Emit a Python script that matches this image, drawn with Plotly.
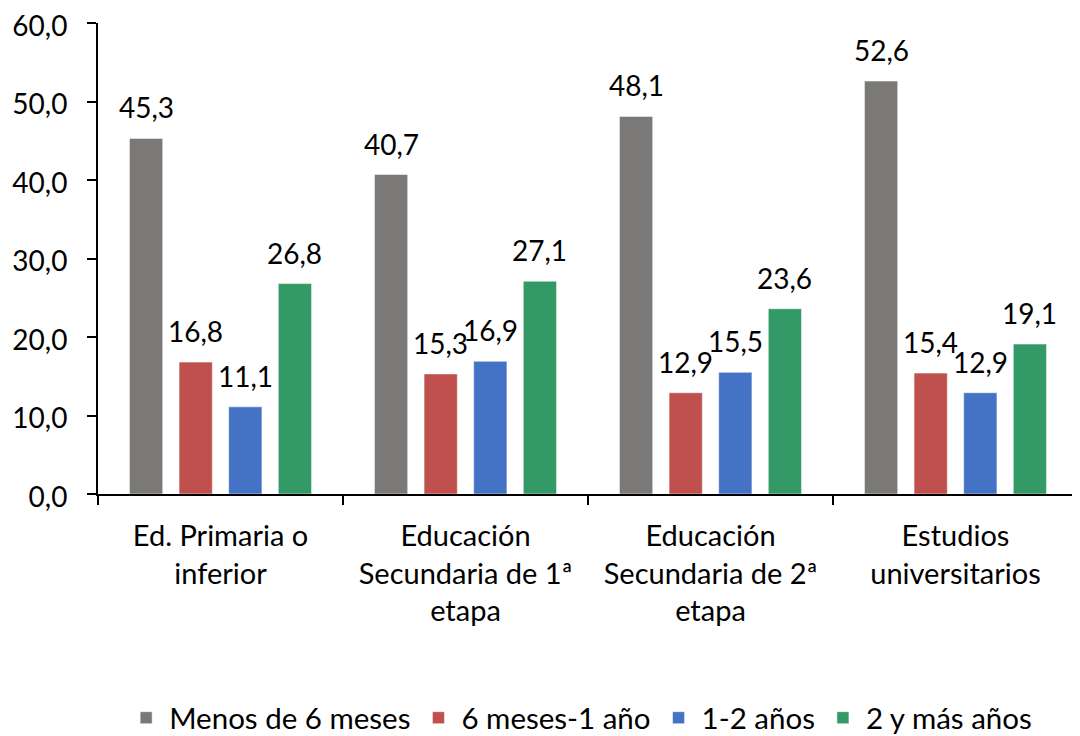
import plotly.graph_objects as go

categories = ["Ed. Primaria o<br>inferior",
              "Educación<br>Secundaria de 1ª<br>etapa",
              "Educación<br>Secundaria de 2ª<br>etapa",
              "Estudios<br>universitarios"]
series_names = ["Menos de 6 meses", "6 meses-1 año", "1-2 años", "2 y más años"]
menos_6_meses = [45.3, 40.7, 48.1, 52.6]
seis_meses_1_ano = [16.8, 15.3, 12.9, 15.4]
uno_dos_anos = [11.1, 16.9, 15.5, 12.9]
dos_y_mas = [26.8, 27.1, 23.6, 19.1]
colors = ["#7A7977", "#C0504D", "#4472C4", "#339966"]

all_values = [menos_6_meses, seis_meses_1_ano, uno_dos_anos, dos_y_mas]

FONT = "Lato"
FS = 28
FS_X = 29
FS_LEG = 29.5
BARGAP = 0.19
BARGROUPGAP = 0.33

fig = go.Figure()
for name, vals, col in zip(series_names, all_values, colors):
    fig.add_trace(go.Bar(
        x=categories, y=vals, name=name,
        marker=dict(color=col, line=dict(color="rgba(255,255,255,0.5)", width=1)),
    ))

n = len(series_names)
annotations = []
for i, vals in enumerate(all_values):
    for j, v in enumerate(vals):
        annotations.append(dict(
            x=j + (i - (n - 1) / 2) * (1 - BARGAP) / n, y=v,
            xref="x", yref="y", text=f"{v:.1f}".replace(".", ","),
            showarrow=False, yanchor="bottom", yshift=12,
            font=dict(family=FONT, size=FS, color="black"),
        ))

# the page body offsets the figure by 8px, so margins are reduced by 8px on top/left
fig.update_layout(
    width=1080, height=736,
    margin=dict(l=90, r=10, t=15, b=250),
    paper_bgcolor="white", plot_bgcolor="white",
    barmode="group", bargap=BARGAP, bargroupgap=BARGROUPGAP,
    separators=",.",
    font=dict(family=FONT, size=FS, color="black"),
    annotations=annotations,
    showlegend=True,
    legend=dict(orientation="h", x=0.492, xanchor="center",
                yref="container", y=0.0353, yanchor="middle",
                itemwidth=36,
                font=dict(family=FONT, size=FS_LEG, color="black"), traceorder="normal"),
)
fig.update_yaxes(range=[0, 60], dtick=10, tickformat=".1f", showgrid=False,
                 showline=True, linecolor="black", linewidth=2,
                 ticks="outside", ticklen=9, tickwidth=2, tickcolor="black",
                 ticklabelstandoff=14, ticklabelshift=3, zeroline=False, automargin=False,
                 ticklabeloverflow="allow",
                 tickfont=dict(family=FONT, size=FS, color="black"))
fig.update_xaxes(showgrid=False, showline=True, linecolor="black", linewidth=2,
                 ticks="outside", ticklen=9, tickwidth=2, tickcolor="black",
                 tickson="boundaries", ticklabelstandoff=15, automargin=False,
                 ticklabeloverflow="allow",
                 tickfont=dict(family=FONT, size=FS_X, color="black"))

fig.write_html("out.html")
